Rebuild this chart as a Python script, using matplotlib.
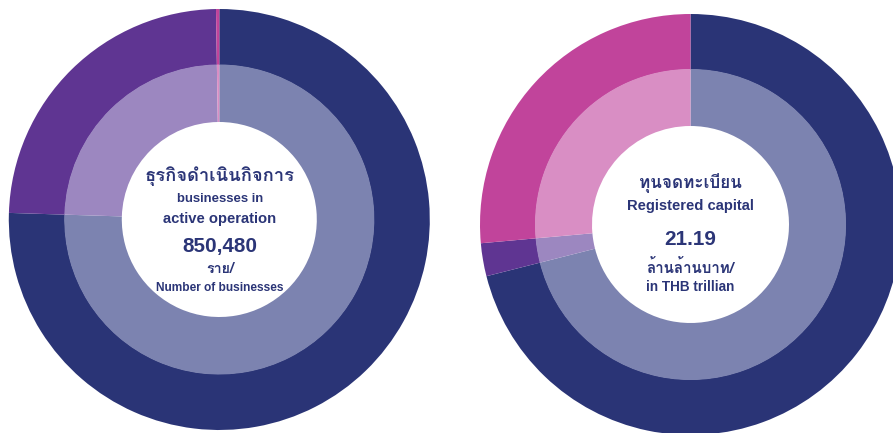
import matplotlib
matplotlib.use("Agg")
import matplotlib.pyplot as plt
from matplotlib import font_manager as fm
from matplotlib.ft2font import FT2Font

# ---------------- data ----------------
categories = ["Company limited", "Partnership", "Public company limited"]
business_share = [75.5, 24.25, 0.25]      # % of businesses in active operation
capital_share = [71.05, 2.53, 26.42]      # % of registered capital

left_lines = ["ธุรกิจดำเนินกิจการ", "businesses in", "active operation",
              "850,480", "ราย/", "Number of businesses"]
right_lines = ["ทุนจดทะเบียน", "Registered capital", "21.19",
               "ล้านล้านบาท/", "in THB trillian"]

# ---------------- styles ----------------
outer_colors = ["#2a3476", "#5f3592", "#c1449b"]
inner_colors = ["#7c83b0", "#9c87c0", "#d98ec4"]
text_color = "#2b3577"

W, H = 893, 433


def find_thai_font():
    best = None
    for f in fm.fontManager.ttflist:
        try:
            cm = FT2Font(f.fname).get_charmap()
        except Exception:
            continue
        if 0x0E18 in cm and 0x0E33 in cm and 0x0E38 in cm:
            wt = f.weight
            score = 0
            if wt in ("bold", "heavy", "black", "semibold", "demibold") or \
                    (isinstance(wt, int) and wt >= 600):
                score += 1
            if best is None or score > best[0]:
                best = (score, f.name)
    return best[1] if best else None


thai_font = find_thai_font()
names = {f.name for f in fm.fontManager.ttflist}
latin_font = "Liberation Sans" if "Liberation Sans" in names else "DejaVu Sans"
thai_family = ([thai_font] if thai_font else []) + [latin_font, "DejaVu Sans"]
latin_family = [latin_font, "DejaVu Sans"]

fig = plt.figure(figsize=(W / 100, H / 100), dpi=100)
ax = fig.add_axes([0, 0, 1, 1])


def Y(y_img):
    return H - y_img


def donut(values, cx, cy, r_out, r_mid, r_in):
    wp = dict(edgecolor="none", linewidth=0, antialiased=True)
    ax.pie(values, radius=r_out, center=(cx, Y(cy)), startangle=90,
           counterclock=False, colors=outer_colors,
           wedgeprops=dict(width=r_out - r_mid + 0.5, **wp))
    ax.pie(values, radius=r_mid, center=(cx, Y(cy)), startangle=90,
           counterclock=False, colors=inner_colors,
           wedgeprops=dict(width=r_mid - r_in, **wp))


donut(business_share, 219.3, 219.5, 210.5, 155.0, 97.5)
donut(capital_share, 690.5, 224.5, 210.5, 155.5, 98.5)

ax.set_xlim(0, W)
ax.set_ylim(0, H)
ax.set_aspect("equal")
ax.axis("off")

# text: (x, baseline y in image px, target width px, is_thai)
left_layout = [(220, 180.5, 150, True), (220, 202.3, 87, False),
               (220, 222.7, 113, False), (220, 251.7, 75, False),
               (220, 273.0, 28, True), (220, 290.7, 128, False)]
right_layout = [(690, 188.3, 103, True), (690, 210.0, 127, False),
                (690, 245.0, 52, False), (690, 273.3, 88, True),
                (690, 290.7, 88, False)]

texts = []
for lines, layout in ((left_lines, left_layout), (right_lines, right_layout)):
    for s, (x, yb, tw, thai) in zip(lines, layout):
        t = ax.text(x, Y(yb), s, ha="center", va="baseline", fontsize=10,
                    fontweight="bold", color=text_color,
                    family=thai_family if thai else latin_family)
        texts.append((t, tw))

fig.canvas.draw()
r = fig.canvas.get_renderer()
for t, tw in texts:
    w = t.get_window_extent(renderer=r).width
    if w > 0:
        t.set_fontsize(10 * tw / w)

fig.savefig("out.png", dpi=100)
